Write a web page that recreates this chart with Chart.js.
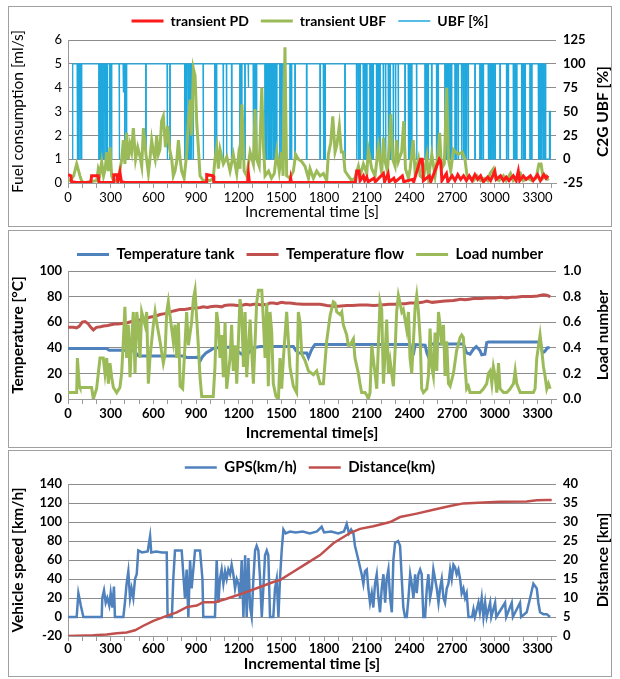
<!DOCTYPE html>
<html>
<head>
<meta charset="utf-8">
<title>Drive cycle panels</title>
<script src="https://cdn.jsdelivr.net/npm/chart.js@4.4.1/dist/chart.umd.min.js"></script>
<style>
  body { margin: 0; background: #fff; }
  .panel { position: absolute; left: 8px; width: 602px; border: 1px solid #a0a0a0; background: #fff; }
  .panel canvas { display: block; }
  #p1 { top: 6px; height: 219px; }
  #p2 { top: 230px; height: 216px; }
  #p3 { top: 450px; height: 225px; }
</style>
</head>
<body>
<div class="panel" id="p1"><canvas id="c1" width="602" height="219"></canvas></div>
<div class="panel" id="p2"><canvas id="c2" width="602" height="216"></canvas></div>
<div class="panel" id="p3"><canvas id="c3" width="602" height="225"></canvas></div>
<script>
// shared x ticks
const timeTickLabels = [0, 300, 600, 900, 1200, 1500, 1800, 2100, 2400, 2700, 3000, 3300];

// panel 1 - fuel consumption [ml/s] and UBF [%]
const pdTime = [0, 20, 25, 60, 160, 166, 213, 218, 320, 322, 345, 350, 365, 375, 400, 970, 975, 1020, 1025, 1262, 1268, 1275, 1560, 1565, 1570, 2020, 2029, 2045, 2053, 2076, 2085, 2100, 2110, 2150, 2160, 2217, 2225, 2250, 2258, 2290, 2300, 2350, 2360, 2420, 2430, 2478, 2490, 2498, 2540, 2550, 2610, 2620, 2628, 2660, 2670, 2700, 2720, 2740, 2760, 2780, 2800, 2820, 2840, 2860, 2880, 2900, 2920, 2950, 2970, 3000, 3010, 3040, 3060, 3080, 3100, 3130, 3150, 3165, 3175, 3200, 3220, 3250, 3270, 3300, 3320, 3345, 3360, 3375];
const pdValue = [0.35, 0.3, 0.05, 0.02, 0.02, 0.3, 0.3, 0.02, 0.02, 0.35, 0.35, 0.05, 0.45, 0.05, 0.02, 0.02, 0.35, 0.3, 0.02, 0.02, 0.4, 0.02, 0.02, 0.2, 0.02, 0.02, 0.5, 0.5, 0.1, 0.3, 0.1, 0.25, 0.05, 0.2, 0.05, 0.4, 0.05, 0.4, 0.05, 0.2, 0.05, 0.3, 0.05, 0.15, 0.05, 1.0, 1.0, 0.1, 0.3, 0.05, 1.0, 0.9, 0.1, 0.4, 0.05, 0.3, 0.1, 0.35, 0.15, 0.3, 0.1, 0.3, 0.1, 0.35, 0.15, 0.3, 0.05, 0.25, 0.1, 0.5, 0.15, 0.3, 0.1, 0.25, 0.1, 0.3, 0.1, 0.5, 0.1, 0.3, 0.15, 0.3, 0.1, 0.35, 0.1, 0.35, 0.2, 0.3];

const tubfTime = [0, 14, 40, 61, 75, 84, 95, 110, 150, 202, 213, 225, 237, 250, 262, 272, 284, 295, 307, 320, 340, 354, 366, 378, 389, 400, 412, 424, 436, 447, 459, 475, 490, 506, 518, 530, 548, 565, 576, 588, 600, 612, 623, 635, 646, 658, 670, 685, 700, 715, 729, 740, 752, 764, 776, 788, 799, 816, 834, 846, 858, 869, 881, 893, 905, 916, 928, 950, 1000, 1021, 1033, 1045, 1057, 1069, 1092, 1116, 1139, 1162, 1186, 1198, 1209, 1223, 1238, 1256, 1280, 1303, 1315, 1326, 1344, 1362, 1374, 1385, 1410, 1430, 1450, 1467, 1485, 1502, 1512, 1525, 1537, 1560, 1584, 1600, 1619, 1643, 1666, 1690, 1701, 1725, 1748, 1772, 1795, 1818, 1830, 1847, 1861, 1877, 1890, 1907, 1921, 1935, 1947, 1970, 1994, 2017, 2041, 2053, 2076, 2100, 2111, 2135, 2158, 2182, 2205, 2217, 2229, 2245, 2258, 2270, 2282, 2299, 2310, 2322, 2345, 2360, 2372, 2393, 2405, 2426, 2440, 2463, 2475, 2498, 2522, 2534, 2557, 2580, 2600, 2612, 2625, 2645, 2662, 2674, 2690, 2709, 2725, 2745, 2770, 2790, 2805, 2826, 2850, 2874, 2900, 2930, 2950, 2967, 2990, 3003, 3030, 3060, 3080, 3110, 3130, 3150, 3180, 3200, 3230, 3260, 3290, 3310, 3325, 3340, 3360, 3375];
const tubfValue = [0.1, 0.1, 0.3, 0.8, 0.5, 0.3, 0.1, 0.0, 0.05, 0.1, 0.6, 0.4, 0.9, 0.3, 0.6, 1.3, 0.5, 1.5, 0.3, 0.1, 0.1, 0.2, 0.6, 1.0, 1.8, 0.8, 2.1, 1.0, 1.6, 1.3, 2.3, 1.0, 1.5, 1.1, 0.7, 2.3, 1.2, 0.4, 1.0, 1.8, 1.3, 1.0, 2.0, 1.2, 1.4, 2.6, 2.8, 1.5, 2.4, 1.4, 1.0, 0.3, 0.5, 0.9, 1.8, 1.0, 0.5, 0.2, 1.2, 2.6, 3.5, 2.0, 4.8, 4.5, 2.5, 1.5, 0.3, 0.1, 0.1, 0.2, 1.0, 1.5, 0.6, 1.4, 0.8, 1.1, 0.5, 1.2, 0.4, 1.1, 0.6, 3.3, 0.5, 0.3, 1.3, 0.8, 3.1, 1.0, 0.7, 4.0, 1.5, 0.3, 0.5, 0.2, 0.4, 1.3, 0.5, 1.3, 0.3, 5.7, 0.3, 0.2, 0.5, 1.2, 1.0, 0.9, 0.7, 0.2, 0.6, 0.2, 0.5, 0.3, 0.4, 0.1, 1.2, 1.7, 2.8, 1.3, 1.6, 2.4, 1.3, 1.3, 0.5, 0.3, 0.1, 0.2, 0.7, 0.3, 0.8, 0.4, 1.4, 0.6, 0.3, 1.5, 0.4, 1.9, 0.9, 0.5, 1.6, 2.9, 1.0, 0.7, 1.8, 0.9, 1.3, 2.6, 0.6, 0.2, 0.6, 1.8, 0.4, 1.0, 0.3, 0.2, 1.1, 0.2, 1.2, 0.3, 1.2, 2.1, 0.6, 0.8, 4.0, 1.0, 0.5, 1.4, 1.3, 1.2, 1.3, 1.0, 0.3, 0.2, 0.1, 0.3, 0.1, 0.2, 0.1, 0.4, 0.6, 0.2, 0.1, 0.3, 0.1, 0.4, 0.1, 0.2, 0.4, 0.1, 0.2, 0.1, 0.2, 0.8, 0.8, 0.2, 0.3, 0.1];

// UBF drops from 100 % to 0 % (short pulses), a few partial drops, start and end
const ubfDipTime = [66, 77, 89, 96, 218, 230, 241, 253, 265, 276, 295, 307, 361, 400, 412, 548, 698, 717, 822, 834, 846, 858, 869, 881, 951, 1033, 1045, 1092, 1115, 1151, 1209, 1221, 1244, 1303, 1315, 1326, 1385, 1397, 1409, 1420, 1432, 1444, 1455, 1467, 1490, 1502, 1514, 1525, 1561, 1572, 1596, 1678, 1772, 1796, 1807, 1947, 2029, 2041, 2053, 2076, 2088, 2100, 2123, 2135, 2146, 2170, 2182, 2193, 2217, 2233, 2252, 2264, 2287, 2303, 2322, 2369, 2393, 2404, 2416, 2451, 2510, 2522, 2533, 2557, 2592, 2603, 2650, 2662, 2674, 2686, 2697, 2721, 2732, 2744, 2767, 2779, 2791, 2802, 2814, 2861, 2896, 2908, 2920, 2955, 2967, 2979, 2990, 3002, 3037, 3084, 3096, 3131, 3143, 3154, 3190, 3202, 3213, 3248, 3260, 3307, 3318, 3330, 3342, 3354];
const ubfPartTime = [389, 1268];
const ubfPartLevel = [70, 75];
const ubfHeadTime = [30, 33];
const ubfHeadValue = [0, 100];
const ubfTailTime = [3359, 3359, 3384, 3384, 3388, 3388, 3392];
const ubfTailValue = [100, 0, 0, 50, 50, 0, 0];

// panel 2 - temperatures [°C] and load number
const tankTime = [0, 270, 290, 440, 470, 490, 506, 811, 834, 900, 915, 930, 945, 970, 1000, 1021, 1068, 1162, 1190, 1221, 1260, 1285, 1303, 1350, 1584, 1600, 1620, 1678, 1690, 1710, 1725, 1736, 2404, 2416, 2428, 2440, 2510, 2522, 2533, 2545, 2560, 2779, 2802, 2826, 2850, 2870, 2895, 2908, 2930, 2943, 2955, 3320, 3335, 3350, 3370, 3385];
const tankValue = [39.5, 39.5, 38, 38, 37, 34, 33.5, 33.5, 32.5, 32.5, 33, 30, 33, 36, 38, 39.5, 40.5, 40.5, 37.5, 35, 35, 38, 40, 41, 41, 38, 36, 36, 32.5, 38, 41, 42.5, 42.5, 34, 35, 42.5, 42, 36, 33, 42, 43, 43, 36, 35, 39, 41, 38, 34.5, 35, 44, 44.5, 44.5, 36, 37, 40, 40];

const flowTime = [0, 40, 60, 80, 100, 120, 140, 160, 178, 200, 230, 250, 280, 300, 330, 350, 380, 400, 430, 460, 490, 520, 550, 580, 610, 647, 670, 700, 730, 750, 770, 788, 820, 850, 880, 900, 930, 951, 980, 1000, 1030, 1050, 1080, 1100, 1130, 1162, 1190, 1220, 1250, 1280, 1305, 1330, 1360, 1400, 1420, 1443, 1470, 1500, 1530, 1560, 1600, 1650, 1700, 1740, 1772, 1820, 1865, 1900, 1959, 2000, 2050, 2100, 2150, 2200, 2260, 2300, 2334, 2370, 2400, 2451, 2490, 2522, 2560, 2600, 2650, 2709, 2740, 2760, 2790, 2820, 2850, 2880, 2910, 2943, 2980, 3000, 3040, 3080, 3120, 3150, 3190, 3224, 3260, 3300, 3340, 3365, 3390];
const flowValue = [56, 56, 55.5, 57, 60, 60.5, 59, 56, 54, 56, 56.5, 57, 57.5, 58, 58.5, 58.5, 59, 59, 60, 61, 61.5, 62, 63, 64, 64.5, 66, 66.5, 67, 68.5, 69, 69.5, 70, 70, 70.5, 71, 71, 71.5, 72, 71.5, 72, 72.5, 72.5, 72, 73, 73.5, 73.5, 73, 73, 74, 73.5, 74, 74, 73.5, 74, 75, 75, 74.5, 75.5, 75, 75, 74.5, 74, 74, 74, 74, 73, 72.5, 72.5, 73, 73, 73.5, 73.5, 73, 73.5, 74, 74, 74.5, 74.5, 75, 75, 75.5, 76.5, 75.5, 76, 76.5, 77, 77.5, 78, 77.5, 78, 78.5, 78.5, 78.5, 79, 79, 79, 79.5, 79, 79.5, 79.5, 80, 80, 80, 80.5, 81.5, 81, 80];

const loadTime = [0, 26, 61, 66, 80, 84, 166, 178, 201, 225, 248, 260, 272, 284, 295, 307, 319, 342, 365, 377, 389, 400, 412, 424, 436, 447, 459, 471, 483, 494, 506, 518, 541, 553, 565, 576, 600, 612, 623, 647, 670, 682, 694, 705, 717, 740, 752, 764, 776, 788, 806, 822, 834, 846, 869, 881, 893, 905, 916, 928, 940, 951, 1021, 1033, 1045, 1057, 1068, 1080, 1092, 1104, 1115, 1139, 1150, 1162, 1174, 1186, 1209, 1221, 1233, 1245, 1256, 1280, 1291, 1303, 1326, 1338, 1362, 1373, 1385, 1397, 1408, 1420, 1432, 1443, 1462, 1479, 1490, 1502, 1514, 1537, 1560, 1584, 1607, 1619, 1631, 1643, 1666, 1690, 1725, 1748, 1772, 1795, 1818, 1842, 1865, 1877, 1889, 1912, 1924, 1935, 1959, 1970, 1982, 2006, 2017, 2041, 2052, 2064, 2087, 2100, 2111, 2123, 2135, 2158, 2170, 2193, 2205, 2217, 2229, 2240, 2252, 2264, 2287, 2299, 2310, 2322, 2334, 2346, 2357, 2369, 2381, 2393, 2404, 2416, 2428, 2440, 2451, 2463, 2475, 2486, 2498, 2522, 2533, 2545, 2557, 2568, 2580, 2592, 2604, 2615, 2627, 2639, 2650, 2662, 2674, 2686, 2709, 2732, 2756, 2767, 2779, 2791, 2802, 2814, 2826, 2850, 2896, 2920, 2943, 2955, 2967, 2979, 2990, 3002, 3014, 3026, 3037, 3061, 3084, 3108, 3131, 3143, 3154, 3178, 3201, 3248, 3271, 3283, 3295, 3318, 3330, 3342, 3353, 3365, 3377, 3389];
const loadValue = [0.05, 0.05, 0.05, 0.32, 0.1, 0.09, 0.09, 0.0, 0.08, 0.32, 0.32, 0.2, 0.32, 0.12, 0.28, 0.17, 0.09, 0.05, 0.09, 0.2, 0.45, 0.72, 0.32, 0.58, 0.17, 0.45, 0.68, 0.2, 0.68, 0.58, 0.32, 0.68, 0.58, 0.68, 0.12, 0.32, 0.58, 0.68, 0.6, 0.45, 0.28, 0.35, 0.68, 0.76, 0.65, 0.45, 0.58, 0.32, 0.6, 0.1, 0.08, 0.42, 0.68, 0.42, 0.6, 0.78, 0.85, 0.62, 0.42, 0.17, 0.02, 0.02, 0.02, 0.25, 0.68, 0.58, 0.32, 0.5, 0.17, 0.6, 0.08, 0.32, 0.58, 0.22, 0.42, 0.12, 0.78, 0.68, 0.25, 0.68, 0.17, 0.62, 0.38, 0.12, 0.75, 0.85, 0.85, 0.62, 0.32, 0.75, 0.1, 0.68, 0.52, 0.12, 0.02, 0.0, 0.32, 0.08, 0.32, 0.68, 0.25, 0.1, 0.05, 0.68, 0.6, 0.35, 0.3, 0.22, 0.19, 0.22, 0.12, 0.12, 0.45, 0.65, 0.76, 0.75, 0.68, 0.66, 0.68, 0.58, 0.5, 0.42, 0.42, 0.47, 0.32, 0.2, 0.12, 0.05, 0.05, 0.03, 0.0, 0.05, 0.42, 0.2, 0.08, 0.76, 0.7, 0.12, 0.35, 0.62, 0.2, 0.3, 0.1, 0.38, 0.68, 0.81, 0.75, 0.68, 0.7, 0.62, 0.54, 0.68, 0.32, 0.2, 0.45, 0.72, 0.81, 0.68, 0.48, 0.08, 0.05, 0.08, 0.18, 0.55, 0.25, 0.18, 0.52, 0.22, 0.68, 0.58, 0.42, 0.58, 0.18, 0.45, 0.12, 0.1, 0.2, 0.38, 0.48, 0.5, 0.48, 0.25, 0.08, 0.1, 0.05, 0.05, 0.05, 0.08, 0.12, 0.2, 0.22, 0.12, 0.25, 0.18, 0.05, 0.28, 0.08, 0.05, 0.05, 0.08, 0.12, 0.22, 0.12, 0.05, 0.05, 0.05, 0.05, 0.08, 0.32, 0.5, 0.38, 0.25, 0.18, 0.08, 0.12, 0.08];

// panel 3 - vehicle speed [km/h] and distance [km]
const gpsTime = [0, 61, 68, 73, 80, 90, 108, 237, 241, 253, 265, 276, 290, 300, 312, 323, 330, 389, 400, 412, 424, 436, 447, 459, 471, 483, 494, 520, 560, 577, 585, 620, 660, 694, 700, 730, 740, 752, 799, 822, 834, 846, 858, 869, 893, 928, 945, 951, 1033, 1045, 1057, 1068, 1080, 1092, 1104, 1115, 1127, 1139, 1150, 1162, 1174, 1186, 1198, 1209, 1221, 1233, 1245, 1256, 1268, 1280, 1291, 1303, 1315, 1326, 1338, 1350, 1362, 1373, 1385, 1397, 1408, 1420, 1443, 1455, 1467, 1479, 1490, 1502, 1514, 1530, 1560, 1600, 1650, 1700, 1750, 1783, 1800, 1850, 1900, 1940, 1959, 1975, 1990, 2006, 2017, 2041, 2064, 2076, 2087, 2100, 2111, 2123, 2135, 2146, 2158, 2170, 2182, 2193, 2205, 2217, 2229, 2240, 2252, 2264, 2276, 2287, 2299, 2320, 2334, 2346, 2357, 2369, 2381, 2393, 2405, 2416, 2428, 2440, 2451, 2463, 2475, 2486, 2498, 2510, 2522, 2533, 2545, 2557, 2568, 2580, 2592, 2604, 2615, 2627, 2639, 2650, 2662, 2674, 2686, 2697, 2709, 2721, 2732, 2744, 2756, 2767, 2779, 2791, 2802, 2815, 2840, 2850, 2860, 2885, 2895, 2908, 2920, 2932, 2943, 2967, 2975, 3002, 3010, 3072, 3080, 3119, 3127, 3177, 3185, 3224, 3248, 3271, 3295, 3306, 3318, 3341, 3365, 3388];
const gpsValue = [0, 0, 15, 25, 20, 12, 0, 0, 20, 28, 15, 20, 12, 25, 10, 32, 0, 0, 15, 35, 48, 20, 30, 20, 40, 45, 70, 68, 69, 85, 68, 69, 68, 68, 0, 0, 40, 70, 70, 20, 50, 0, 60, 30, 70, 70, 40, 0, 0, 60, 15, 40, 50, 35, 48, 40, 50, 45, 55, 45, 30, 40, 35, 20, 60, 0, 65, 0, 62, 10, 0, 40, 70, 75, 70, 40, 0, 30, 65, 70, 65, 0, 0, 30, 40, 0, 40, 70, 92, 88, 90, 89, 90, 88, 90, 95, 89, 90, 88, 90, 98, 88, 92, 88, 75, 60, 45, 35, 48, 50, 30, 15, 25, 10, 35, 45, 20, 5, 30, 45, 15, 40, 50, 20, 5, 60, 78, 80, 75, 40, 10, 0, 0, 20, 45, 35, 20, 45, 25, 45, 50, 45, 0, 0, 30, 45, 20, 30, 50, 40, 30, 15, 30, 40, 20, 15, 30, 35, 50, 40, 55, 52, 45, 50, 40, 25, 30, 20, 25, 0, 0, 8, 0, 15, 5, 20, 0, 15, 0, 15, 0, 15, 0, 15, 0, 15, 0, 15, 0, 5, 20, 35, 30, 15, 5, 3, 3, 0];

const distTime = [0, 178, 272, 342, 412, 471, 530, 600, 694, 764, 834, 905, 951, 1033, 1115, 1233, 1350, 1443, 1490, 1584, 1678, 1772, 1865, 1982, 2052, 2146, 2264, 2334, 2451, 2568, 2685, 2779, 2920, 3037, 3224, 3295, 3365, 3400];
const distValue = [0, 0.2, 0.4, 0.7, 0.9, 1.5, 2.7, 4, 5.3, 6.2, 7.6, 8, 8.9, 8.9, 9.8, 11.3, 12.9, 14.2, 14.7, 16.9, 19.1, 21.3, 24.4, 27.1, 28.2, 28.9, 30, 31.3, 32.2, 33.2, 34.2, 34.9, 35.1, 35.3, 35.4, 35.7, 35.8, 35.8];

// ---------------------------------------------------------------
const FONT = "Lato, 'Open Sans', sans-serif";
const GRID = "#8c8c8c";
const AXIS = "#9a9a9a";

const pts = (xs, ys) => xs.map((x, i) => ({ x, y: ys[i] }));

function ubfPoints() {
  const dips = ubfDipTime.map(t => [t, 0])
    .concat(ubfPartTime.map((t, i) => [t, ubfPartLevel[i]]))
    .sort((a, b) => a[0] - b[0]);
  const out = pts(ubfHeadTime, ubfHeadValue);
  dips.forEach(([t, v]) => {
    out.push({ x: t - 2, y: 100 }, { x: t - 2, y: v }, { x: t + 2, y: v }, { x: t + 2, y: 100 });
  });
  return out.concat(pts(ubfTailTime, ubfTailValue));
}

function line(label, data, color, width, axis, order) {
  return {
    label, data, yAxisID: axis, order: order || 0,
    borderColor: color, backgroundColor: color, borderWidth: width,
    pointRadius: 0, tension: 0, fill: false,
  };
}

// legend with a fixed height, nudged vertically
const legendBox = (height, shift) => ({
  id: "legendBox",
  beforeInit(chart) {
    const fit = chart.legend.fit;
    chart.legend.fit = function () {
      fit.call(this);
      this.height = height;
    };
  },
  afterLayout(chart) {
    chart.legend.top += shift;
    chart.legend.bottom += shift;
  },
});

// right-hand axis title, reading bottom to top like the left one
const rightTitle = (text, font, fromRight) => ({
  id: "rightTitle",
  afterDraw(chart) {
    const { ctx, chartArea } = chart;
    ctx.save();
    ctx.translate(chart.width - fromRight, (chartArea.top + chartArea.bottom) / 2);
    ctx.rotate(-Math.PI / 2);
    ctx.font = font;
    ctx.fillStyle = "#000";
    ctx.textAlign = "center";
    ctx.textBaseline = "middle";
    ctx.fillText(text, 0, 0);
    ctx.restore();
  },
});

function timeAxis(title, weight, boxHeight, labelPad, titlePad) {
  return {
    type: "linear", min: 0, max: 3430,
    afterFit: s => { s.height = boxHeight; },
    ticks: {
      stepSize: 100, includeBounds: false, autoSkip: false, maxRotation: 0, padding: labelPad,
      color: "#000", font: { family: FONT, size: 13, weight },
      callback: v => (timeTickLabels.includes(v) ? v : ""),
    },
    grid: { drawOnChartArea: false, drawTicks: true, tickLength: 5, color: AXIS },
    border: { color: AXIS },
    title: { display: true, text: title, color: "#000", font: { family: FONT, size: 15.5, weight }, padding: { top: 0, bottom: titlePad } },
  };
}

function leftAxis(min, max, step, title, weight) {
  return {
    position: "left", min, max,
    afterFit: s => { s.width = 59; },
    ticks: { stepSize: step, padding: 6, color: "#000", font: { family: FONT, size: 13, weight } },
    grid: { color: GRID, drawTicks: false },
    border: { color: AXIS },
    title: { display: true, text: title, color: "#000", font: { family: FONT, size: 15.5, weight }, padding: { top: 0, bottom: 0 } },
  };
}

function rightAxis(min, max, step, fmt) {
  return {
    position: "right", min, max,
    afterFit: s => { s.width = 55; },
    ticks: { stepSize: step, padding: 7, color: "#000", font: { family: FONT, size: 13, weight: "bold" }, callback: fmt },
    grid: { drawOnChartArea: false, drawTicks: false },
    border: { display: false },
  };
}

function legendOpts(size, weight) {
  return {
    position: "top",
    labels: {
      usePointStyle: true, pointStyle: "line", pointStyleWidth: 32, padding: 12,
      color: "#000", font: { family: FONT, size, weight },
      sort: (a, b) => a.datasetIndex - b.datasetIndex,
    },
  };
}

function makeChart(id, datasets, scales, legend, plugins) {
  return new Chart(document.getElementById(id), {
    type: "line",
    data: { datasets },
    options: {
      responsive: false, animation: false, events: [],
      layout: { padding: 0 },
      plugins: { legend, tooltip: { enabled: false } },
      scales,
    },
    plugins,
  });
}

makeChart("c1", [
  line("transient PD", pts(pdTime, pdValue), "#ff1a1a", 3, "y"),
  line("transient UBF", pts(tubfTime, tubfValue), "#9bbb59", 3, "y"),
  line("UBF [%]", ubfPoints(), "#1ea8dd", 1.3, "y1"),
], {
  x: timeAxis("Incremental time [s]", "normal", 43, 2, 5),
  y: leftAxis(0, 6, 1, "Fuel consumption [ml/s]", "normal"),
  y1: rightAxis(-25, 125, 25),
}, legendOpts(14, "bold"), [legendBox(33, -5), rightTitle("C2G UBF [%]", "bold 15.5px " + FONT, 8)]);

makeChart("c2", [
  line("Temperature tank", pts(tankTime, tankValue), "#4f81bd", 3, "y"),
  line("Temperature flow", pts(flowTime, flowValue), "#c0504d", 3, "y"),
  line("Load number", pts(loadTime, loadValue), "#9bbb59", 3, "y1", -1),
], {
  x: timeAxis("Incremental time[s]", "bold", 48, 2, 5),
  y: leftAxis(0, 100, 20, "Temperature [°C]", "bold"),
  y1: rightAxis(0, 1, 0.2, v => v.toFixed(1)),
}, legendOpts(15, "bold"), [legendBox(40, 4), rightTitle("Load number", "bold 15.5px " + FONT, 8)]);

makeChart("c3", [
  line("GPS(km/h)", pts(gpsTime, gpsValue), "#4f81bd", 2.5, "y"),
  line("Distance(km)", pts(distTime, distValue), "#c0504d", 2.5, "y1", -1),
], {
  x: timeAxis("Incremental time [s]", "bold", 40, 0, 3),
  y: leftAxis(-20, 140, 20, "Vehicle speed [km/h]", "bold"),
  y1: rightAxis(0, 40, 5),
}, legendOpts(15, "bold"), [legendBox(33, -3), rightTitle("Distance [km]", "bold 15.5px " + FONT, 8)]);
</script>
</body>
</html>
